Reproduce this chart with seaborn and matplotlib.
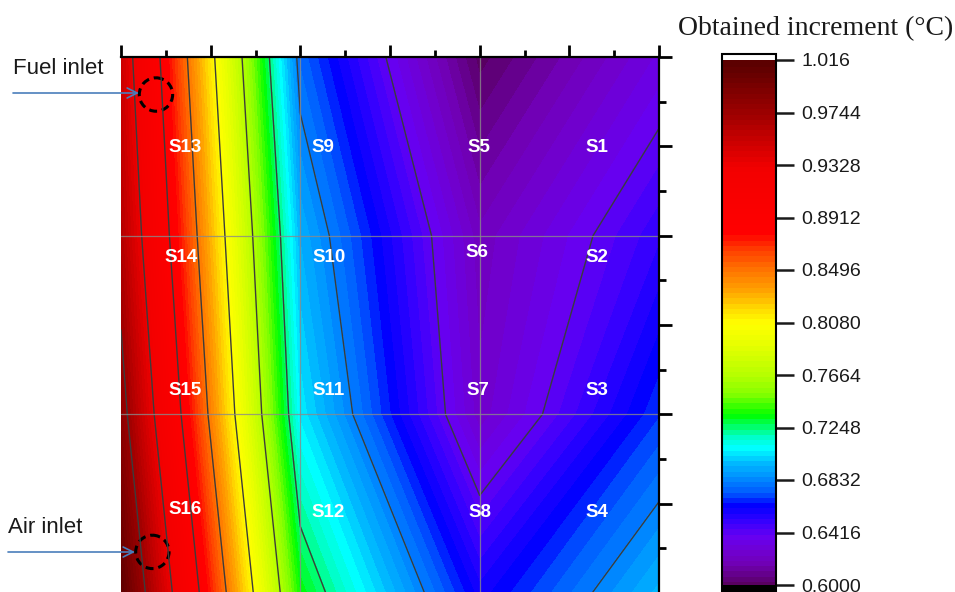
import numpy as np
import pandas as pd
import matplotlib
matplotlib.use("Agg")
import matplotlib.pyplot as plt
from matplotlib.colors import LinearSegmentedColormap
from matplotlib.patches import Ellipse
import seaborn as sns

# ---------------- data ----------------
sensors = ["S1", "S2", "S3", "S4", "S5", "S6", "S7", "S8",
           "S9", "S10", "S11", "S12", "S13", "S14", "S15", "S16"]
sensor_x = [6, 6, 6, 6, 4, 4, 4, 4, 2, 2, 2, 2, 0, 0, 0, 0]
sensor_y = [0, 2, 4, 6, 0, 2, 4, 6, 0, 2, 4, 6, 0, 2, 4, 6]
increment = [0.634, 0.653, 0.670, 0.697,
             0.602, 0.622, 0.6263, 0.660,
             0.6777, 0.6950, 0.7067, 0.7355,
             0.9505, 0.9637, 0.9841, 1.012]

cbar_ticks = [0.6000, 0.6416, 0.6832, 0.7248, 0.7664, 0.8080,
              0.8496, 0.8912, 0.9328, 0.9744, 1.016]
cbar_labels = ["0.6000", "0.6416", "0.6832", "0.7248", "0.7664", "0.8080",
               "0.8496", "0.8912", "0.9328", "0.9744", "1.016"]
line_levels = cbar_ticks[1:-1]

# ---------------- style ----------------
sns.set_theme(style="white")
plt.rcParams["font.family"] = ["Liberation Sans", "DejaVu Sans"]

W, H = 955, 592
fig = plt.figure(figsize=(W / 100, H / 100), dpi=100)

def fx(px):
    return px / W

def fy(py):
    return 1 - py / H

ax = fig.add_axes([fx(121), fy(593), fx(659) - fx(121), fy(57) - fy(593)])

df = pd.DataFrame({"sensor": sensors, "x": sensor_x, "y": sensor_y, "v": increment})
grid = df.pivot(index="y", columns="x", values="v")
X, Y = np.meshgrid(grid.columns.values, grid.index.values)
Z = grid.values

anchors = [
    (0.000, "#550058"), (0.017, "#610080"), (0.041, "#7000b0"), (0.067, "#7000d0"),
    (0.096, "#6600f2"), (0.125, "#3300ff"), (0.156, "#0000ff"), (0.178, "#0058ff"),
    (0.204, "#0088ff"), (0.233, "#00b4ff"), (0.264, "#00ffff"), (0.288, "#00ffc0"),
    (0.312, "#00ff4d"), (0.327, "#00ff00"), (0.365, "#80ff00"), (0.401, "#b3ff00"),
    (0.452, "#e0ff00"), (0.502, "#ffff00"), (0.536, "#ffd100"), (0.567, "#ffa000"),
    (0.606, "#ff7000"), (0.642, "#ff4000"), (0.673, "#ff0000"), (0.800, "#f20000"),
    (0.841, "#d10000"), (0.899, "#a00000"), (0.962, "#730000"), (1.000, "#590000"),
]
cmap = LinearSegmentedColormap.from_list("origin_rainbow", anchors, N=512)
cmap.set_over("white")
cmap.set_under("black")

fill_levels = np.linspace(cbar_ticks[0], cbar_ticks[-1], 101)
cs = ax.contourf(X, Y, Z, levels=fill_levels, cmap=cmap, extend="both")
cs.set_edgecolor("face")
cs.set_linewidth(0.6)
ax.contour(X, Y, Z, levels=line_levels, colors="#3c3c3c", linewidths=1.0)

for g in (2, 4):
    ax.axvline(g, color="#8a8a8a", lw=0.9, alpha=0.8)
    ax.axhline(g, color="#8a8a8a", lw=0.9, alpha=0.8)

ax.set_xlim(0, 6)
ax.set_ylim(6, 0)
ax.set_xticks(range(7))
ax.set_xticks(np.arange(0.5, 6, 1), minor=True)
ax.set_yticks(range(7))
ax.set_yticks(np.arange(0.5, 6, 1), minor=True)
ax.xaxis.tick_top()
ax.yaxis.tick_right()
ax.tick_params(axis="both", which="major", direction="out", length=9, width=2,
               color="black", labeltop=False, labelbottom=False,
               labelleft=False, labelright=False)
ax.tick_params(axis="both", which="minor", direction="out", length=5, width=2,
               color="black")
ax.tick_params(axis="x", top=True, bottom=False, which="both")
ax.tick_params(axis="y", right=True, left=False, which="both")
for s in ("left", "bottom"):
    ax.spines[s].set_visible(False)
for s in ("top", "right"):
    ax.spines[s].set_color("black")
    ax.spines[s].set_linewidth(1.6)
ax.grid(False)

# sensor labels (layout positions of the text, in axis units)
label_pos = {
    "S13": (0.72, 1.01), "S9": (2.25, 1.01), "S5": (3.99, 1.01), "S1": (5.31, 1.01),
    "S14": (0.67, 2.24), "S10": (2.32, 2.24), "S6": (3.97, 2.19), "S2": (5.31, 2.24),
    "S15": (0.72, 3.73), "S11": (2.31, 3.73), "S7": (3.98, 3.73), "S3": (5.31, 3.73),
    "S16": (0.72, 5.07), "S12": (2.31, 5.10), "S8": (4.0, 5.10), "S4": (5.31, 5.10),
}
for name in sensors:
    lx, ly = label_pos[name]
    ax.text(lx, ly, name, color="white", fontsize=13.5, fontweight="bold",
            ha="center", va="center")

# inlet markers
for cx, cy in [(0.39, 0.42), (0.35, 5.54)]:
    ax.add_patch(Ellipse((cx, cy), 0.372, 0.374, fill=False, edgecolor="black",
                         lw=2.2, linestyle=(0, (2.6, 1.6)), clip_on=False))

arrow_color = "#4a7ebb"
for (x0, x1, y, label, ly, lx) in [(13, 139, 93, "Fuel inlet", 74, 13),
                                    (8, 135, 552, "Air inlet", 533, 8)]:
    ax.annotate("", xy=(fx(x1), fy(y)), xytext=(fx(x0), fy(y)),
                xycoords="figure fraction", textcoords="figure fraction",
                arrowprops=dict(arrowstyle="->", color=arrow_color, lw=1.2,
                                mutation_scale=18, shrinkA=0, shrinkB=0),
                annotation_clip=False)
    fig.text(fx(lx), fy(ly), label, fontsize=16, color="#1a1a1a",
             ha="left", va="baseline")

# colorbar
cax = fig.add_axes([fx(722), fy(591), fx(776) - fx(722), fy(54) - fy(591)])
extfrac = (537 / 525 - 1) / 2
cb = fig.colorbar(cs, cax=cax, extend="both", extendrect=True, extendfrac=extfrac)
if cb.solids is not None:
    cb.solids.set_edgecolor("face")
cb.set_ticks(cbar_ticks)
cb.ax.set_yticklabels(cbar_labels)
cb.ax.tick_params(direction="out", length=13, width=1.8, labelsize=14,
                  pad=5, colors="#1a1a1a", right=True)
cb.ax.minorticks_off()
cb.outline.set_linewidth(1.5)
cb.outline.set_edgecolor("black")

fig.text(fx(816), fy(35), "Obtained increment (°C)",
         family=["Liberation Serif", "DejaVu Serif"], fontsize=20,
         color="#1a1a1a", ha="center", va="baseline")

fig.savefig("out.png", dpi=100)
